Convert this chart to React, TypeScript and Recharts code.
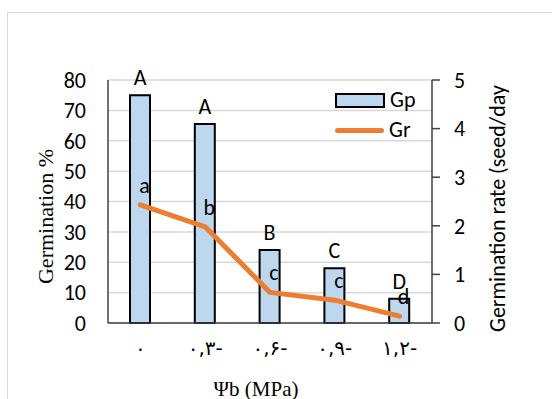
import React from "react";
import {
  ComposedChart,
  Bar,
  Line,
  XAxis,
  YAxis,
  CartesianGrid,
  LabelList,
} from "recharts";

const psiLabels = ["٠", "٠,٣-", "٠,۶-", "٠,٩-", "١,٢-"];
const gpValues = [75, 65.5, 24, 18, 8];
const grValues = [2.43, 1.98, 0.63, 0.47, 0.14];
const gpLetters = ["A", "A", "B", "C", "D"];
const grLetters = ["a", "b", "c", "c", "d"];
const leftTicks = [0, 10, 20, 30, 40, 50, 60, 70, 80];
const rightTicks = [0, 1, 2, 3, 4, 5];

const data = psiLabels.map((psi, i) => ({
  psi,
  Gp: gpValues[i],
  Gr: grValues[i],
  gpLetter: gpLetters[i],
  grLetter: grLetters[i],
}));

const SANS = "Carlito, Lato, 'Liberation Sans', sans-serif";
const SERIF = "'Liberation Serif', 'DejaVu Serif', serif";

const XTick = (props: any) => {
  const { x, y, payload } = props;
  return (
    <text
      x={x}
      y={y}
      dy={16}
      textAnchor="middle"
      fontSize={20}
      fill="#000"
      fontFamily="'DejaVu Sans', serif"
      direction="ltr"
      unicodeBidi="bidi-override"
      letterSpacing={4}
    >
      {payload.value}
    </text>
  );
};

// legend sits inside the plot, top right
const LegendBox = () => (
  <div
    style={{
      position: "absolute",
      left: 335,
      top: 85,
      fontFamily: SANS,
      fontSize: 22,
      color: "#000",
      lineHeight: "30px",
    }}
  >
    <div style={{ display: "flex", alignItems: "center" }}>
      <span
        style={{
          display: "inline-block",
          width: 46,
          height: 11,
          background: "#BDD7EE",
          border: "2px solid #000",
          marginRight: 5,
        }}
      />
      Gp
    </div>
    <div style={{ display: "flex", alignItems: "center" }}>
      <span
        style={{
          display: "inline-block",
          width: 49,
          height: 5,
          borderRadius: 3,
          background: "#ED7D31",
          marginRight: 5,
        }}
      />
      Gr
    </div>
  </div>
);

export default function App() {
  return (
    <div style={{ position: "absolute", left: 0, top: 0, width: 552, height: 399, overflow: "hidden", background: "#fff" }}>
      <div
        style={{
          position: "absolute",
          left: 7,
          top: 12,
          width: 580,
          height: 420,
          border: "1.5px solid #d9d9d9",
        }}
      />
      <ComposedChart
        width={552}
        height={399}
        data={data}
        margin={{ top: 80, right: 20, bottom: 6, left: 8 }}
        style={{ position: "absolute", left: 0, top: 0 }}
      >
        <CartesianGrid yAxisId="left" vertical={false} stroke="#d9d9d9" strokeWidth={1.5} />
        <XAxis
          dataKey="psi"
          height={70}
          tick={<XTick />}
          tickLine={false}
          tickSize={0}
          tickMargin={16}
          axisLine={{ stroke: "#404040", strokeWidth: 1.5 }}
          label={({ viewBox }: any) => (
            <text
              x={viewBox.x + viewBox.width / 2 - 14}
              y={viewBox.y + 73}
              textAnchor="middle"
              fontSize={21}
              fontFamily={SERIF}
              fill="#000"
            >
              Ψb (MPa)
            </text>
          )}
        />
        <YAxis
          yAxisId="left"
          width={100}
          domain={[0, 80]}
          ticks={leftTicks}
          interval={0}
          tickLine={false}
          tickSize={8}
          tickMargin={14}
          axisLine={{ stroke: "#404040", strokeWidth: 1.5 }}
          tick={{ fontSize: 22, fill: "#000", fontFamily: SANS }}
          label={({ viewBox }: any) => {
            const cx = viewBox.x + 37;
            const cy = viewBox.y + viewBox.height / 2 + 15;
            return (
              <text
                x={cx}
                y={cy}
                transform={`rotate(-90 ${cx} ${cy})`}
                textAnchor="middle"
                dominantBaseline="central"
                fontSize={22}
                fontFamily={SERIF}
                fill="#000"
              >
                Germination %
              </text>
            );
          }}
        />
        <YAxis
          yAxisId="right"
          orientation="right"
          width={100}
          domain={[0, 5]}
          ticks={rightTicks}
          interval={0}
          tickSize={8}
          tickMargin={14}
          tickLine={{ stroke: "#404040", strokeWidth: 1.5 }}
          axisLine={{ stroke: "#404040", strokeWidth: 1.5 }}
          tick={{ fontSize: 22, fill: "#000", fontFamily: SANS }}
          label={({ viewBox }: any) => {
            const cx = viewBox.x + 65;
            const cy = viewBox.y + viewBox.height / 2 + 7;
            return (
              <text
                x={cx}
                y={cy}
                transform={`rotate(-90 ${cx} ${cy})`}
                textAnchor="middle"
                dominantBaseline="central"
                fontSize={22}
                fontFamily={SANS}
                fill="#000"
              >
                Germination rate (seed/day
              </text>
            );
          }}
        />
        <Bar
          yAxisId="left"
          dataKey="Gp"
          barSize={20}
          fill="#BDD7EE"
          stroke="#000"
          strokeWidth={2}
          isAnimationActive={false}
        >
          <LabelList dataKey="gpLetter" position="top" offset={10} fontSize={22} fill="#000" fontFamily={SANS} />
        </Bar>
        <Line
          yAxisId="right"
          dataKey="Gr"
          stroke="#ED7D31"
          strokeWidth={5}
          strokeLinecap="round"
          strokeLinejoin="round"
          dot={false}
          isAnimationActive={false}
        >
          <LabelList dataKey="grLetter" position="top" offset={12} dx={4} fontSize={22} fill="#000" fontFamily={SANS} />
        </Line>
      </ComposedChart>
      <LegendBox />
    </div>
  );
}
